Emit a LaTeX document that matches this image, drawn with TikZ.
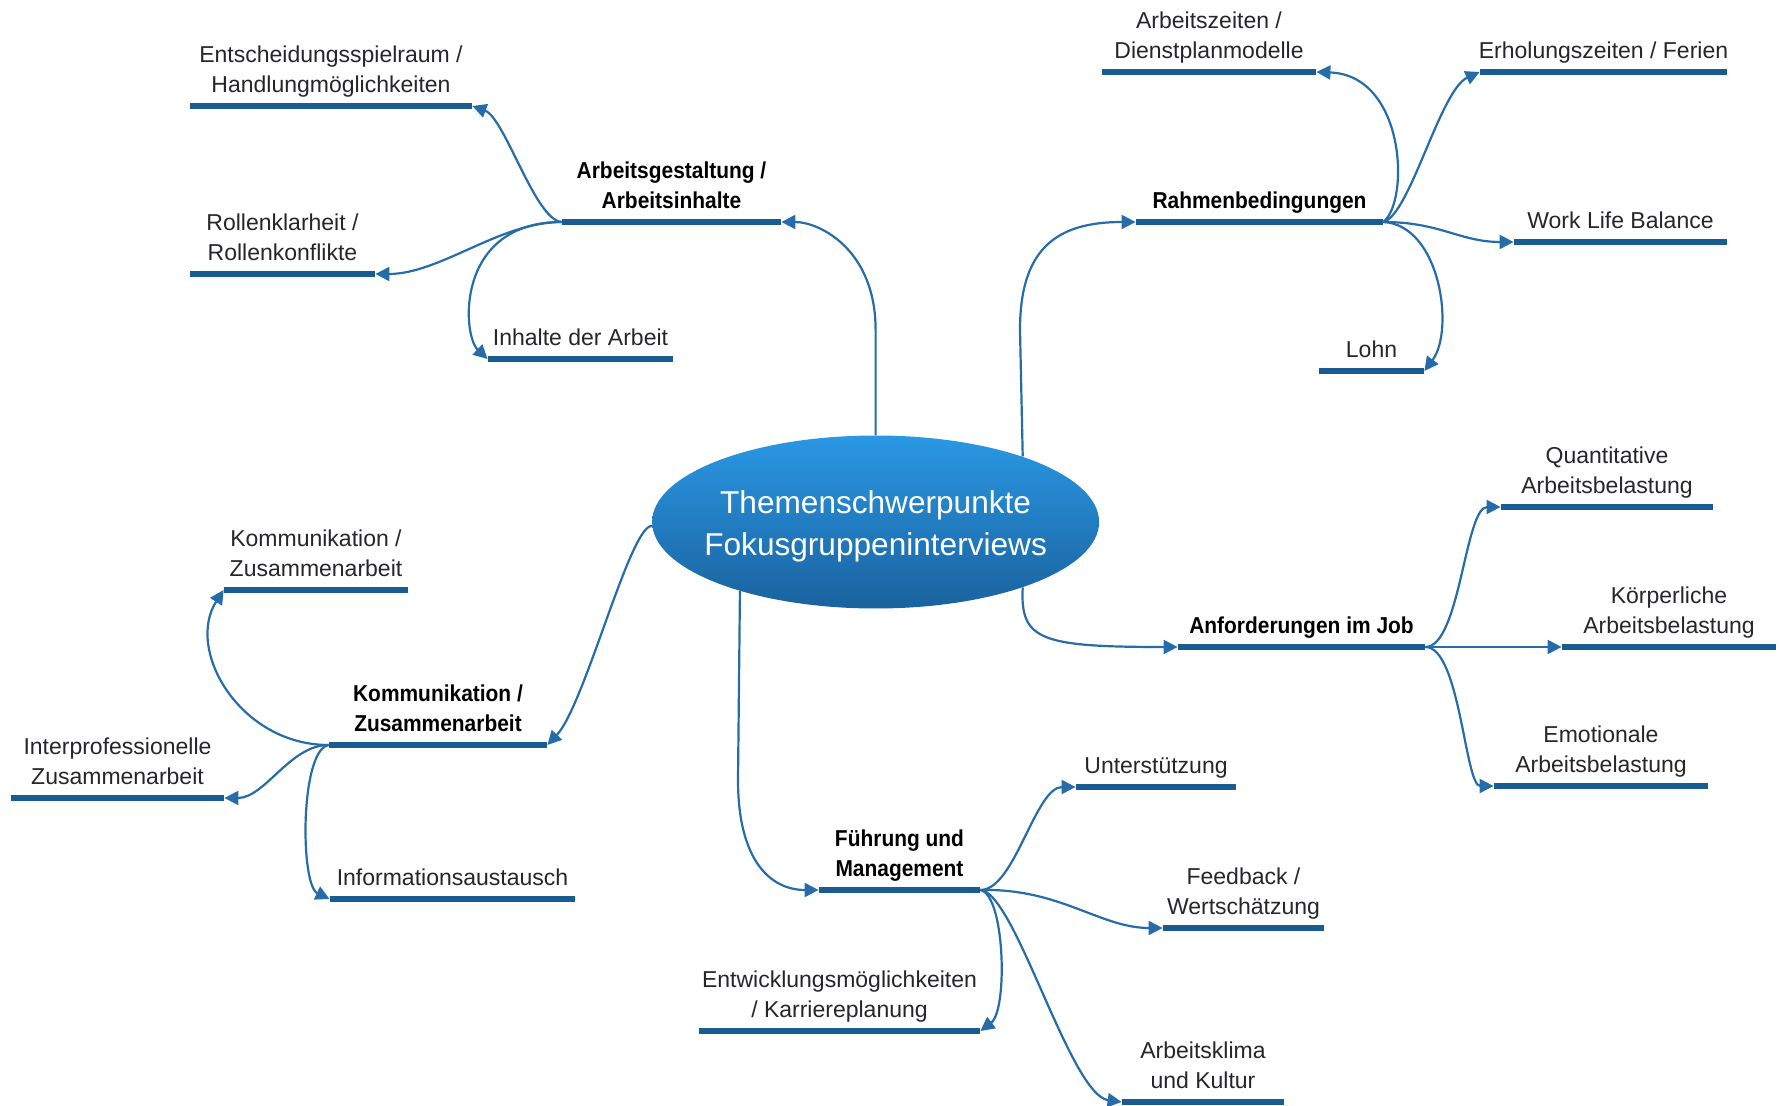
\documentclass[tikz,border=0pt]{standalone}
\usepackage{fontspec}
\setmainfont{Liberation Sans}[BoldFeatures={FakeStretch=0.91}]
\usetikzlibrary{arrows.meta, positioning, shapes.geometric}
\definecolor{mapbar}{RGB}{26,92,146}
\definecolor{mapline}{RGB}{38,108,168}
\definecolor{maptext}{RGB}{38,38,42}
\definecolor{maptop}{RGB}{42,152,228}
\definecolor{mapbottom}{RGB}{26,98,158}
\tikzset{
  bar/.style   = {rectangle, fill=mapbar, inner sep=0pt, minimum height=3pt,
                  minimum width=#1*0.5pt},
  leaf/.style  = {align=center, inner sep=0pt, text depth=2.5pt, text=maptext,
                  font=\fontsize{11.5}{15}\selectfont},
  topic/.style = {leaf, text=black, font=\fontsize{11.5}{15}\selectfont\bfseries},
  link/.style  = {-{Triangle[length=7pt,width=7pt]}, line width=1.1pt, draw=mapline},
  hub/.style   = {ellipse, top color=maptop, bottom color=mapbottom, draw=none,
                  inner sep=0pt, minimum width=223.5pt, minimum height=86.5pt},
  hubtext/.style = {text=white, align=center, inner sep=0pt,
                  font=\fontsize{15.8}{21}\selectfont},
}

\begin{document}
\begin{tikzpicture}[x=0.5pt, y=-0.5pt]
  \useasboundingbox (0,0) rectangle (1783,1106);
  \node[hub] (hub) at (875.6,522) {};
  \node[hubtext] (thub) at (875.6,526) {Themenschwerpunkte\\Fokusgruppeninterviews};

  % main topics
  \foreach \n/\x/\y/\w/\t in {
      arb/671.5/222/219/{Arbeitsgestaltung /\\Arbeitsinhalte},
      rah/1259.5/222/247/{Rahmenbedingungen},
      anf/1301.5/647/247/{Anforderungen im Job},
      fue/899.5/890/161/{Führung und\\Management},
      kom/438/745/218/{Kommunikation /\\Zusammenarbeit}} {
    \node[bar=\w] (\n) at (\x,\y) {};
    \node[topic, above=2.5pt of \n] (t\n) {\t};
  }

  % sub topics
  \foreach \n/\x/\y/\w/\t in {
      ent/331/106/282/{Entscheidungsspielraum /\\Handlungmöglichkeiten},
      rol/282.5/274/185/{Rollenklarheit /\\Rollenkonflikte},
      inh/580.5/359/185/{Inhalte der Arbeit},
      azt/1209/72/214/{Arbeitszeiten /\\Dienstplanmodelle},
      erh/1603.5/72/247/{Erholungszeiten / Ferien},
      wlb/1620.5/242/213/{Work Life Balance},
      lohn/1371.5/371/105/{Lohn},
      qua/1607/507/212/{Quantitative\\Arbeitsbelastung},
      kor/1669/647/214/{Körperliche\\Arbeitsbelastung},
      emo/1601/786/214/{Emotionale\\Arbeitsbelastung},
      unt/1156/787/160/{Unterstützung},
      fee/1243.5/928/161/{Feedback /\\Wertschätzung},
      kar/839.5/1031/281/{Entwicklungsmöglichkeiten\\/ Karriereplanung},
      kli/1203/1102/162/{Arbeitsklima\\und Kultur},
      kzs/316/590/184/{Kommunikation /\\Zusammenarbeit},
      ipz/117.5/798/213/{Interprofessionelle\\Zusammenarbeit},
      inf/452.5/899/245/{Informationsaustausch}} {
    \node[bar=\w] (\n) at (\x,\y) {};
    \node[leaf, above=2.5pt of \n] (t\n) {\t};
  }

  % hub to topics
  \draw[link] (hub.north) -- (875.6,330) .. controls (875.6,250) and (820,222) .. (arb.east);
  \draw[link] (hub.24.6) -- (1020,330) .. controls (1020,250) and (1055,222) .. (rah.west);
  \draw[link] (hub.-24.6) .. controls (1020,640) and (1040,647) .. (anf.west);
  \draw[link] (hub.-153.6) -- (738,780) .. controls (738,860) and (770,890) .. (fue.west);
  \draw[link] (hub.181) .. controls (630,525) and (585,705) .. (kom.east);

  % topics to sub topics
  \draw[link] (arb.west) .. controls (535,220) and (505,118) .. (ent.east);
  \draw[link] (arb.west) .. controls (500,222) and (440,274) .. (rol.east);
  \draw[link] (arb.west) .. controls (455,222) and (462,335) .. (inh.west);

  \draw[link] (rah.east) .. controls (1410,200) and (1405,75) .. (azt.east);
  \draw[link] (rah.east) .. controls (1410,215) and (1440,90) .. (erh.west);
  \draw[link] (rah.east) .. controls (1440,222) and (1460,242) .. (wlb.west);
  \draw[link] (rah.east) .. controls (1440,225) and (1455,330) .. (lohn.east);

  \draw[link] (anf.east) .. controls (1460,647) and (1465,507) .. (qua.west);
  \draw[link] (anf.east) -- (kor.west);
  \draw[link] (anf.east) .. controls (1460,647) and (1465,786) .. (emo.west);

  \draw[link] (fue.east) .. controls (1015,890) and (1035,787) .. (unt.west);
  \draw[link] (fue.east) .. controls (1060,888) and (1100,928) .. (fee.west);
  \draw[link] (fue.east) .. controls (1005,895) and (1008,1010) .. (kar.east);
  \draw[link] (fue.east) .. controls (1015,892) and (1070,1095) .. (kli.west);

  \draw[link] (kom.west) .. controls (240,745) and (185,650) .. (kzs.west);
  \draw[link] (kom.west) .. controls (290,745) and (265,798) .. (ipz.east);
  \draw[link] (kom.west) .. controls (300,750) and (300,885) .. (inf.west);
\end{tikzpicture}
\end{document}
